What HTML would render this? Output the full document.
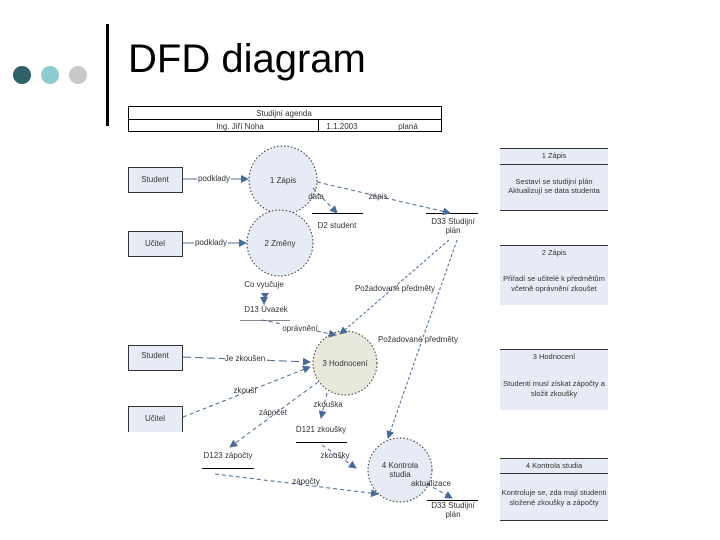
<!DOCTYPE html>
<html><head><meta charset="utf-8"><style>
html,body{margin:0;padding:0;background:#fff;}
svg{display:block;font-family:"Liberation Sans",sans-serif;}
</style></head><body>
<svg width="720" height="540" viewBox="0 0 720 540" xmlns="http://www.w3.org/2000/svg">
<defs>
<marker id="a" markerWidth="8" markerHeight="8" refX="7" refY="4" orient="auto" markerUnits="userSpaceOnUse">
<path d="M0,0 L8,4 L0,8 z" fill="#4a6a96"/></marker>
</defs>
<circle cx="22" cy="75" r="9" fill="#2f6266"/>
<circle cx="50" cy="75" r="9" fill="#8ecbcf"/>
<circle cx="78" cy="75" r="9" fill="#c8c8c8"/>
<rect x="106" y="24" width="3" height="102" fill="#000"/>
<text x="128" y="72" font-size="40" fill="#000">DFD diagram</text>

<g stroke="#000" stroke-width="1" fill="none">
<rect x="128.5" y="106.5" width="313" height="25"/>
<line x1="128" y1="119.5" x2="441" y2="119.5"/>
<line x1="318.5" y1="119" x2="318.5" y2="131"/>
</g>
<g font-size="8" fill="#333" text-anchor="middle">
<text x="284" y="116">Studijní agenda</text>
<text x="240" y="129">Ing. Jiří Noha</text>
<text x="342" y="129">1.1.2003</text>
<text x="408" y="129">planá</text>
</g>

<!-- entities -->
<g fill="#e6ebf5" stroke="#333" stroke-width="1">
<rect x="128.5" y="167.5" width="54" height="25"/>
<rect x="128.5" y="231.5" width="54" height="25"/>
<rect x="128.5" y="345.5" width="54" height="25"/>
</g>
<rect x="128" y="406" width="55" height="26" fill="#e6ebf5"/>
<path d="M128.5,432 V406.5 H182.5 V432" fill="none" stroke="#333"/>

<!-- processes -->
<g stroke="#333" stroke-width="1" stroke-dasharray="1.5,2">
<circle cx="283" cy="180" r="34" fill="#e6ebf5"/>
<circle cx="280" cy="243" r="33" fill="#e6ebf5"/>
<circle cx="345" cy="363" r="32" fill="#e8e8dc"/>
<circle cx="400" cy="470" r="32" fill="#e6ebf5"/>
</g>

<!-- stores -->
<g stroke="#000" stroke-width="1">
<line x1="312" y1="213.5" x2="363" y2="213.5"/>
<line x1="426" y1="213.5" x2="478" y2="213.5"/>
<line x1="240" y1="320.5" x2="290" y2="320.5" stroke="#888"/>
<line x1="296" y1="442.5" x2="347" y2="442.5"/>
<line x1="202" y1="468.5" x2="254" y2="468.5"/>
<line x1="427" y1="500.5" x2="478" y2="500.5"/>
</g>

<!-- connectors -->
<g stroke="#4a6a96" stroke-width="1" fill="none" marker-end="url(#a)">
<line x1="183" y1="179" x2="248" y2="179"/>
<line x1="183" y1="243" x2="246" y2="243"/>
<path d="M313,188 L337,213" stroke-dasharray="4,3"/>
<path d="M317,182 L450,213" stroke-dasharray="4,3"/>
<line x1="264" y1="298" x2="264" y2="304" stroke="none"/>
<path d="M449,240 L340,334" stroke-dasharray="3,2"/>
<path d="M457,240 L388,438" stroke-dasharray="3,2"/>
<path d="M262,320 L336,335" stroke-dasharray="4,3"/>
<path d="M183,357 L310,362" stroke-dasharray="8,4"/>
<path d="M183,417 L310,367" stroke-dasharray="4,3"/>
<path d="M318,382 L230,447" stroke-dasharray="4,3"/>
<path d="M327,393 L321,418" stroke-dasharray="4,3"/>
<path d="M322,445 L356,468" stroke-dasharray="4,3"/>
<path d="M215,474 L378,494" stroke-dasharray="4,3"/>
<path d="M427,484 L452,498" stroke-dasharray="4,3"/>
</g>
<path d="M261,293 L269,293 L265,299 z" fill="#4a6a96"/>

<g font-size="8" fill="#333" text-anchor="middle">
<text x="155" y="182">Student</text>
<text x="155" y="246">Učitel</text>
<text x="155" y="358">Student</text>
<text x="155" y="421">Učitel</text>
<text x="283" y="183">1 Zápis</text>
<text x="280" y="246">2 Změny</text>
<text x="345" y="366">3 Hodnocení</text>
<text x="400" y="468">4 Kontrola</text>
<text x="400" y="477">studia</text>
<text x="337" y="228">D2 student</text>
<text x="453" y="224">D33 Studijní</text>
<text x="453" y="233">plán</text>
<text x="264" y="287">Co vyučuje</text>
<text x="266" y="312">D13 Úvazek</text>
<text x="321" y="432">D121 zkoušky</text>
<text x="228" y="458">D123 zápočty</text>
<text x="453" y="508">D33 Studijní</text>
<text x="453" y="517">plán</text>
</g>
<g font-size="8" fill="#333" text-anchor="middle">
<rect x="197" y="173" width="34" height="10" fill="#fff"/>
<text x="214" y="181">podklady</text>
<rect x="194" y="237" width="34" height="10" fill="#fff"/>
<text x="211" y="245">podklady</text>
<text x="316" y="199">data</text>
<text x="378" y="199">zápis</text>
<text x="395" y="291">Požadované předměty</text>
<text x="418" y="342">Požadované předměty</text>
<rect x="282" y="323" width="34" height="10" fill="#fff"/>
<text x="300" y="331">oprávnění</text>
<rect x="225" y="353" width="40" height="10" fill="#fff"/>
<text x="245" y="361">Je zkoušen</text>
<text x="245" y="393">zkouší</text>
<text x="273" y="415">zápočet</text>
<text x="328" y="407">zkouška</text>
<text x="335" y="458">zkoušky</text>
<text x="306" y="484">zápočty</text>
<text x="431" y="486">aktualizace</text>
</g>

<!-- notes -->
<g fill="#e6ebf5">
<rect x="500" y="148" width="108" height="62"/>
<rect x="500" y="245" width="108" height="60"/>
<rect x="500" y="349" width="108" height="61"/>
<rect x="500" y="458" width="108" height="62"/>
</g>
<g stroke="#333" stroke-width="1">
<line x1="500" y1="148.5" x2="608" y2="148.5"/><line x1="500" y1="164.5" x2="608" y2="164.5"/><line x1="500" y1="210.5" x2="608" y2="210.5"/>
<line x1="500" y1="245.5" x2="608" y2="245.5"/>
<line x1="500" y1="349.5" x2="608" y2="349.5"/>
<line x1="500" y1="458.5" x2="608" y2="458.5"/><line x1="500" y1="473.5" x2="608" y2="473.5"/><line x1="500" y1="520.5" x2="608" y2="520.5"/>
</g>
<g font-size="7.5" fill="#333" text-anchor="middle">
<text x="554" y="158">1 Zápis</text>
<text x="554" y="184">Sestaví se studijní plán</text>
<text x="554" y="193">Aktualizují se data studenta</text>
<text x="554" y="255">2 Zápis</text>
<text x="554" y="281">Přiřadí se učitelé k předmětům</text>
<text x="554" y="291">včetně oprávnění zkoušet</text>
<text x="554" y="359">3 Hodnocení</text>
<text x="554" y="386">Studenti musí získat zápočty a</text>
<text x="554" y="396">složit zkoušky</text>
<text x="554" y="468">4 Kontrola studia</text>
<text x="554" y="495">Kontroluje se, zda mají studenti</text>
<text x="554" y="505">složené zkoušky a zápočty</text>
</g>
</svg>
</body></html>
